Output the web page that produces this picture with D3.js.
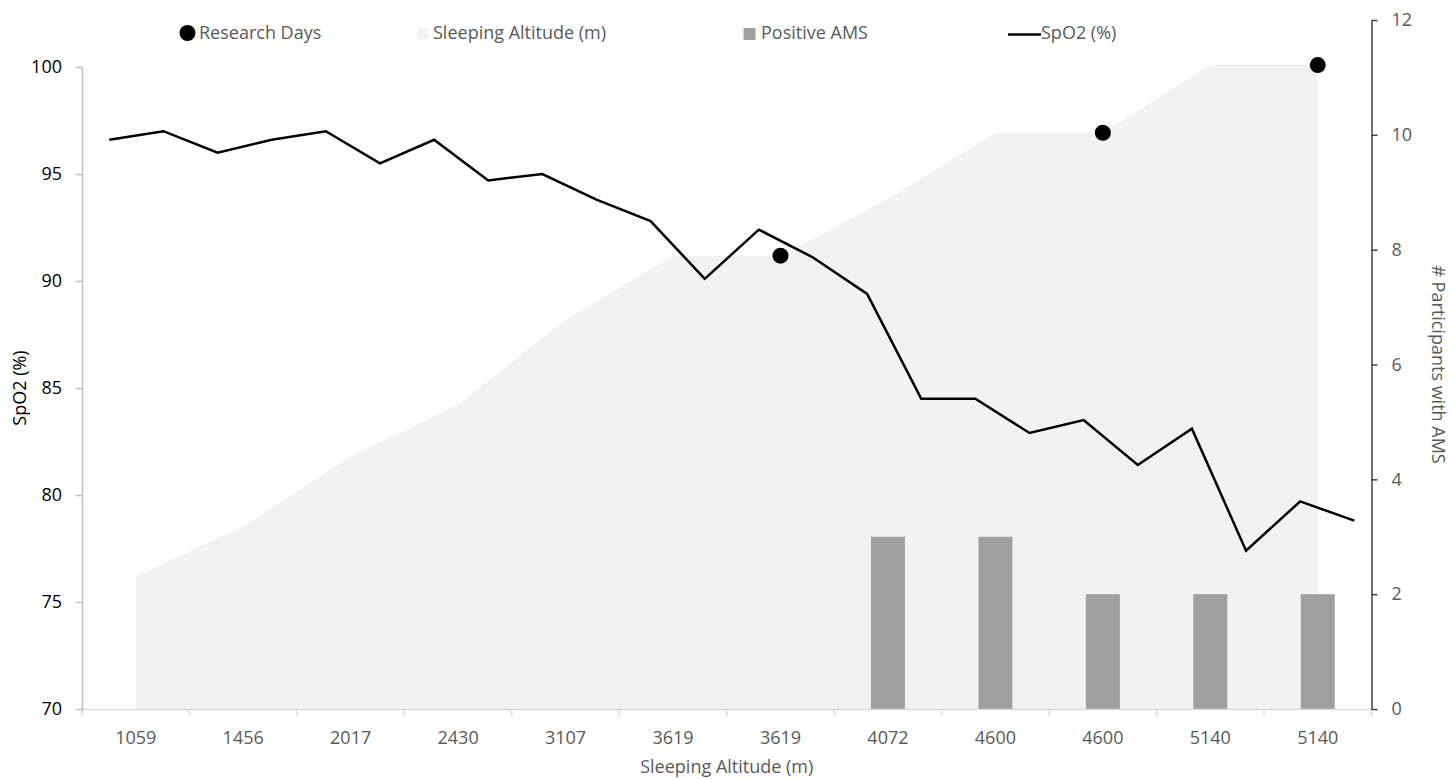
<!DOCTYPE html>
<html>
<head>
<meta charset="utf-8">
<script src="https://cdn.jsdelivr.net/npm/d3@7"></script>
<style>
  html, body { margin: 0; padding: 0; background: #fff; }
  svg text { font-family: "Open Sans", sans-serif; }
</style>
</head>
<body>
<div id="chart"></div>
<script>
// Sleeping altitude per night (category labels on the x axis)
const categories = ['1059', '1456', '2017', '2430', '3107', '3619', '3619', '4072', '4600', '4600', '5140', '5140'];
const sleepingAltitude = [1059, 1456, 2017, 2430, 3107, 3619, 3619, 4072, 4600, 4600, 5140, 5140];
// number of participants positive for AMS (only later nights)
const positiveAMS = [null, null, null, null, null, null, null, 3, 3, 2, 2, 2];
// research days, marked at their sleeping altitude
const researchDays = [null, null, null, null, null, null, 3619, null, null, 4600, null, 5140];
// SpO2 (%) measured twice per night -> 24 readings
const spo2 = [96.6, 97.0, 96.0, 96.6, 97.0, 95.5, 96.6, 94.7, 95.0, 93.8, 92.8, 90.1,
              92.4, 91.1, 89.4, 84.5, 84.5, 82.9, 83.5, 81.4, 83.1, 77.4, 79.7, 78.8];
const leftTicks = [70, 75, 80, 85, 90, 95, 100];
const rightTicks = [0, 2, 4, 6, 8, 10, 12];

const width = 1451, height = 779;
const margin = { top: 20, left: 82, right: 1371.5, bottom: 709 };
const FONT = 18;

const svg = d3.select('#chart')
  .append('svg')
  .attr('width', width)
  .attr('height', height)
  .attr('viewBox', `0 0 ${width} ${height}`);

// Scales
const x = d3.scaleBand()
  .domain(d3.range(categories.length))
  .range([margin.left, margin.right])
  .padding(0);
const xLine = d3.scalePoint()
  .domain(d3.range(spo2.length))
  .range([109.3, 1354.3]);
const yLeft = d3.scaleLinear().domain([70, 100]).range([margin.bottom, 67]);
const yRight = d3.scaleLinear().domain([0, 12]).range([margin.bottom, margin.top]);
// hidden axis for the altitude area and research day markers
const yAlt = d3.scaleLinear().domain([0, 5500]).range([margin.bottom, margin.top]);

const cx = i => x(i) + x.bandwidth() / 2;

// Sleeping altitude area
const area = d3.area()
  .x((d, i) => cx(i))
  .y0(yAlt(0))
  .y1(d => yAlt(d));
svg.append('path')
  .datum(sleepingAltitude)
  .attr('d', area)
  .attr('fill', '#f2f2f2');

// Positive AMS bars
const barW = x.bandwidth() * 0.316;
svg.append('g')
  .selectAll('rect')
  .data(positiveAMS.map((v, i) => ({ v, i })).filter(d => d.v != null))
  .join('rect')
  .attr('x', d => cx(d.i) - barW / 2)
  .attr('y', d => yRight(d.v))
  .attr('width', barW)
  .attr('height', d => yRight(0) - yRight(d.v))
  .attr('fill', '#9f9f9f');

// Axes
const xAxis = svg.append('g')
  .attr('transform', `translate(0,${margin.bottom})`)
  .call(d3.axisBottom(x).tickSize(0).tickPadding(22).tickFormat(i => categories[i]));
xAxis.select('.domain').attr('stroke', '#d9d9d9').attr('stroke-width', 1.5);
xAxis.selectAll('text').attr('font-size', FONT).attr('fill', '#595959').style('font-family', '"Open Sans", sans-serif');
// tick marks between categories
xAxis.selectAll('line.bound')
  .data(d3.range(categories.length + 1))
  .join('line')
  .attr('class', 'bound')
  .attr('x1', i => margin.left + i * x.step())
  .attr('x2', i => margin.left + i * x.step())
  .attr('y1', 0)
  .attr('y2', 7)
  .attr('stroke', '#d9d9d9')
  .attr('stroke-width', 1.5);

const leftAxis = svg.append('g')
  .attr('transform', `translate(${margin.left},0)`)
  .call(d3.axisLeft(yLeft).tickValues(leftTicks).tickSize(6).tickSizeOuter(0).tickPadding(14));
leftAxis.select('.domain').attr('stroke', '#bfbfbf').attr('stroke-width', 1.5);
leftAxis.selectAll('.tick line').attr('stroke', '#bfbfbf').attr('stroke-width', 1.5);
leftAxis.selectAll('text').attr('font-size', FONT).attr('fill', '#000').style('font-family', '"Open Sans", sans-serif');

const rightAxis = svg.append('g')
  .attr('transform', `translate(${margin.right},0)`)
  .call(d3.axisRight(yRight).tickValues(rightTicks).tickSize(6).tickSizeOuter(0).tickPadding(14));
rightAxis.select('.domain').attr('stroke', '#404040').attr('stroke-width', 1.5);
rightAxis.selectAll('.tick line').attr('stroke', '#404040').attr('stroke-width', 1.5);
rightAxis.selectAll('text').attr('font-size', FONT).attr('fill', '#595959').style('font-family', '"Open Sans", sans-serif');

// SpO2 line
svg.append('path')
  .datum(spo2)
  .attr('d', d3.line().x((d, i) => xLine(i)).y(d => yLeft(d)))
  .attr('fill', 'none')
  .attr('stroke', '#000')
  .attr('stroke-width', 2.5)
  .attr('stroke-linejoin', 'miter');

// Research day markers
svg.append('g')
  .selectAll('circle')
  .data(researchDays.map((v, i) => ({ v, i })).filter(d => d.v != null))
  .join('circle')
  .attr('cx', d => cx(d.i))
  .attr('cy', d => yAlt(d.v))
  .attr('r', 8)
  .attr('fill', '#000');

// Axis titles
svg.append('text')
  .attr('x', (margin.left + margin.right) / 2)
  .attr('y', 773)
  .attr('text-anchor', 'middle')
  .attr('font-size', FONT)
  .attr('fill', '#595959')
  .text('Sleeping Altitude (m)');
svg.append('text')
  .attr('transform', `translate(26,${(yLeft(70) + yLeft(100)) / 2}) rotate(-90)`)
  .attr('text-anchor', 'middle')
  .attr('font-size', FONT)
  .attr('fill', '#000')
  .text('SpO2 (%)');
svg.append('text')
  .attr('transform', `translate(1432,${(margin.top + margin.bottom) / 2}) rotate(90)`)
  .attr('text-anchor', 'middle')
  .attr('font-size', FONT)
  .attr('fill', '#595959')
  .text('# Participants with AMS');

// Legend
const legendY = 33;
const legend = svg.append('g');
// Research Days
legend.append('circle').attr('cx', 187.5).attr('cy', legendY).attr('r', 8).attr('fill', '#000');
legend.append('text').attr('x', 199).attr('y', legendY).attr('dy', '0.35em')
  .attr('font-size', FONT).attr('fill', '#595959').text('Research Days');
// Sleeping Altitude (m)
legend.append('rect').attr('x', 417).attr('y', legendY - 5).attr('width', 11).attr('height', 11).attr('fill', '#f2f2f2');
legend.append('text').attr('x', 433).attr('y', legendY).attr('dy', '0.35em')
  .attr('font-size', FONT).attr('fill', '#595959').text('Sleeping Altitude (m)');
// Positive AMS
legend.append('rect').attr('x', 743.5).attr('y', legendY - 5).attr('width', 12).attr('height', 12).attr('fill', '#9f9f9f');
legend.append('text').attr('x', 761).attr('y', legendY).attr('dy', '0.35em')
  .attr('font-size', FONT).attr('fill', '#595959').text('Positive AMS');
// SpO2 (%)
legend.append('line').attr('x1', 1008).attr('x2', 1041).attr('y1', legendY + 1.5).attr('y2', legendY + 1.5)
  .attr('stroke', '#000').attr('stroke-width', 2.5);
legend.append('text').attr('x', 1041).attr('y', legendY).attr('dy', '0.35em')
  .attr('font-size', FONT).attr('fill', '#595959').text('SpO2 (%)');
</script>
</body>
</html>
